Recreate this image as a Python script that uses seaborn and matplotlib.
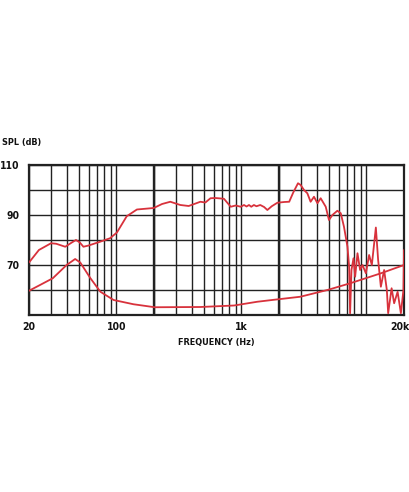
import numpy as np
import pandas as pd
import matplotlib
matplotlib.use("Agg")
import matplotlib.pyplot as plt
import matplotlib.transforms as mtransforms
import seaborn as sns
from matplotlib.ticker import LogLocator, NullFormatter, FixedLocator, FixedFormatter

# ---- data ----
spl_freq = [20, 24, 30, 33, 39, 44, 47.5, 51, 54.5, 60, 74, 89, 101, 121, 146, 199,
            232, 270, 325, 379, 470, 515, 566, 620, 725, 822, 900, 989, 1050, 1100,
            1150, 1200, 1260, 1320, 1416, 1520, 1614, 1750, 1940, 2200, 2414, 2600,
            2838, 2980, 3170, 3370, 3580, 3810, 4060, 4310, 4730, 5020, 5350, 5860,
            6240, 6620, 7060, 7280, 7410, 7600, 7890, 8130, 8490, 8910, 9310, 9910,
            10520, 11060, 11910, 12420, 13060, 13870, 14580, 14940, 15920, 16680,
            17780, 18880, 19800, 20000]
spl_db = [71, 76, 78.7, 78.5, 77.3, 79, 80, 79, 77.3, 77.8, 79.3, 80.7, 83, 89.5, 92.2, 92.8,
          94.4, 95.3, 94.0, 93.6, 95.3, 95.0, 96.7, 96.8, 96.5, 93.3, 93.8, 93.3, 94, 93.4,
          94, 93.3, 94, 93.5, 94, 93.2, 92, 93.5, 94.9, 95.2, 95.3, 99,
          102.7, 102, 100, 98.7, 95.3, 97.3, 94.7, 96.7, 93.3, 88, 90, 91.7,
          90.7, 85.3, 77.3, 69.3, 50.7, 68, 72.7, 65.3, 74.7, 68, 70, 66.7,
          74, 70, 85, 72, 61.3, 68, 60, 50.7, 60.7, 54.7,
          59.3, 50.7, 60, 76]

imp_freq = [20, 24.5, 31, 40, 46.8, 51.4, 62, 74.5, 95, 137, 203, 470, 875, 1340,
            1980, 2960, 4880, 7430, 13100, 20000]
imp_db = [59.7, 62, 64.7, 70, 72.4, 71, 64.7, 59.3, 56, 54.3, 53.1, 53.2, 53.8, 55.3,
          56.3, 57.3, 60, 62.7, 66.7, 70]

x_ticks = [20, 100, 1000, 20000]
x_labels = ["20", "100", "1k", "20k"]
y_ticks = [60, 70, 80, 90, 100, 110]
y_labels = ["", "70", "", "90", "", "110"]

# ---- style ----
sns.set_style("white")
plt.rcParams["font.family"] = ["Liberation Sans Narrow", "DejaVu Sans"]
plt.rcParams["font.weight"] = "bold"
plt.rcParams["font.stretch"] = "condensed"

RED = "#d8323c"
GRID = "#222222"
TXT = "#111111"

fig = plt.figure(figsize=(4.10, 4.92), dpi=100)
ax = fig.add_axes([29 / 410, 1 - 315 / 492, (404 - 29) / 410, 150 / 492])

df_spl = pd.DataFrame({"freq": spl_freq, "db": spl_db})
df_imp = pd.DataFrame({"freq": imp_freq, "db": imp_db})

sns.lineplot(data=df_spl, x="freq", y="db", ax=ax, color=RED, linewidth=1.3,
             sort=False, estimator=None, zorder=3)
sns.lineplot(data=df_imp, x="freq", y="db", ax=ax, color=RED, linewidth=1.3,
             sort=False, estimator=None, zorder=3)

ax.set_xscale("log")
ax.set_xlim(20, 20000)
ax.set_ylim(50, 110)

ax.xaxis.set_major_locator(FixedLocator(x_ticks))
ax.xaxis.set_major_formatter(FixedFormatter(x_labels))
ax.xaxis.set_minor_locator(LogLocator(base=10, subs=np.arange(1, 10), numticks=20))
ax.xaxis.set_minor_formatter(NullFormatter())
ax.yaxis.set_major_locator(FixedLocator(y_ticks))
ax.yaxis.set_major_formatter(FixedFormatter(y_labels))

ax.grid(True, which="both", axis="x", color=GRID, linewidth=1.0)
ax.grid(True, which="major", axis="y", color=GRID, linewidth=1.0)
for f in [200, 2000]:
    ax.axvline(f, color=GRID, linewidth=1.7, zorder=1)

ax.tick_params(axis="both", which="both", length=0, labelsize=7.5, colors=TXT)
ax.tick_params(axis="x", pad=5)
ax.tick_params(axis="y", pad=7)
for s in ax.spines.values():
    s.set_color(GRID)
    s.set_linewidth(1.6)

ax.set_xlabel("")
ax.set_ylabel("")

# nudge the last x label inward so it stays inside the canvas
fig.canvas.draw()
last = ax.get_xticklabels()[-1]
last.set_transform(last.get_transform() +
                   mtransforms.ScaledTranslation(-4 / 100, 0, fig.dpi_scale_trans))

fig.text(2 / 410, 1 - 143 / 492, "SPL (dB)", fontsize=6.5, fontweight="bold",
         ha="left", va="center", color=TXT)
fig.text(216 / 410, 1 - 343 / 492, "FREQUENCY (Hz)", fontsize=6.5, fontweight="bold",
         ha="center", va="center", color=TXT)

fig.savefig("out.png", dpi=100, facecolor="white")
